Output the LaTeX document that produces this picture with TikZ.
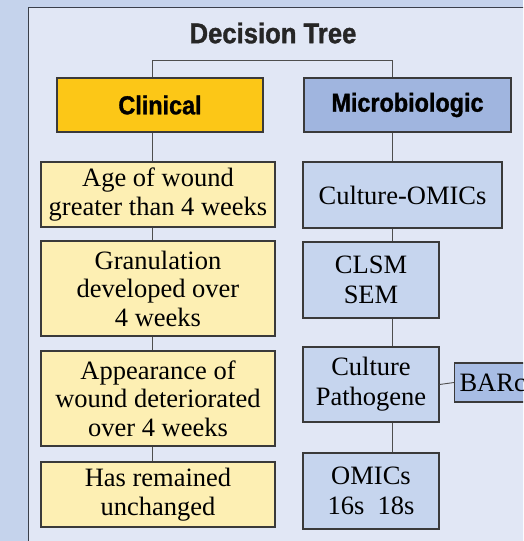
\documentclass[tikz,border=0pt]{standalone}
\usepackage{fontspec}
\setmainfont{Liberation Serif}
\newfontfamily\headfont[FakeStretch=0.9, BoldFeatures={FakeBold=1.2}]{Liberation Sans}
\usepackage{tikz}
\usepackage{xcolor}
\definecolor{outerbg}{HTML}{C5D3EC}
\definecolor{panelbg}{HTML}{E1E7F5}
\definecolor{panelline}{HTML}{3A3F4A}
\definecolor{boxline}{HTML}{3A3A3A}
\definecolor{clinfill}{HTML}{FCC717}
\definecolor{microfill}{HTML}{A0B5DF}
\definecolor{paleyellow}{HTML}{FDEFB3}
\definecolor{paleblue}{HTML}{C6D5EE}
\definecolor{barcfill}{HTML}{A8BDE4}

\tikzset{
  headbox/.style={draw=boxline, line width=1.1pt, inner sep=0pt, minimum height=54pt,
    font=\headfont\bfseries\fontsize{26}{28}\selectfont},
  critbox/.style={draw=boxline, line width=1.1pt, fill=paleyellow, inner sep=0pt,
    minimum width=234pt, align=center, font=\fontsize{26.5}{28.5}\selectfont},
  testbox/.style={draw=boxline, line width=1.1pt, fill=paleblue, inner sep=0pt,
    minimum width=136pt, align=center, font=\fontsize{26.5}{30}\selectfont},
  link/.style={draw=boxline!90, line width=0.9pt}
}

\begin{document}
\begin{tikzpicture}[x=1pt, y=-1pt]
  \useasboundingbox (0,0) rectangle (523,541);
  \clip (0,0) rectangle (523,541);

  % --- background panels ---
  \fill[outerbg] (0,0) rectangle (523,541);
  \fill[panelbg] (28.5,7.5) rectangle (540,560);
  \draw[panelline, line width=1.3pt] (28.5,560) -- (28.5,7.5) -- (540,7.5);

  % --- title ---
  \node[font=\headfont\bfseries\fontsize{28.5}{30}\selectfont, text=black!85] (title) at (273,33) {Decision Tree};

  % --- the two branches ---
  \node[headbox, fill=clinfill, minimum width=206pt] (clinical) at (160,105) {Clinical};
  \node[headbox, fill=microfill, minimum width=207pt] (micro) at (407.5,105) {Microbiologic};

  % --- clinical criteria ---
  \node[critbox, minimum height=65pt] (age) at (158,194.5) {Age of wound\\greater than 4 weeks};
  \node[critbox, minimum height=95pt] (gran) at (158,288.5) {Granulation\\developed over\\4 weeks};
  \node[critbox, minimum height=95pt] (appear) at (158,398.5) {Appearance of\\wound deteriorated\\over 4 weeks};
  \node[critbox, minimum height=65pt] (unchanged) at (158,494.5) {Has remained\\unchanged};

  % --- microbiologic tests ---
  \node[testbox, minimum width=199pt, minimum height=66pt] (culomics) at (402.5,195) {Culture-OMICs};
  \node[testbox, minimum height=76pt] (clsm) at (371,280) {CLSM\\SEM};
  \node[testbox, minimum height=75pt] (culpath) at (371,384.5) {Culture\\Pathogene};
  \node[testbox, minimum height=76pt] (omics) at (371,491) {OMICs\\16s~~18s};
  \node[draw=boxline, line width=1.1pt, fill=barcfill, inner xsep=5pt, inner ysep=0pt,
    minimum height=39pt, text width=90pt, align=left, anchor=west,
    font=\fontsize{26.5}{28}\selectfont] (barc) at (454,382.5) {BARc};

  % --- connectors ---
  \coordinate (forkL) at (152,60);
  \coordinate (forkR) at (392.7,60);
  \draw[link] (clinical.north -| forkL) -- (forkL) -- (forkR) -- (micro.north -| forkR);

  \draw[link] (clinical.south -| forkL) -- (age.north -| forkL);
  \draw[link] (age.south -| forkL) -- (gran.north -| forkL);
  \draw[link] (gran.south -| forkL) -- (appear.north -| forkL);
  \draw[link] (appear.south -| forkL) -- (unchanged.north -| forkL);

  \draw[link] (micro.south -| forkR) -- (culomics.north -| forkR);
  \draw[link] (culomics.south -| forkR) -- (clsm.north -| forkR);
  \draw[link] (clsm.south -| forkR) -- (culpath.north -| forkR);
  \draw[link] (culpath.south -| forkR) -- (omics.north -| forkR);
  \draw[link] (culpath.east) -- (barc.west);
\end{tikzpicture}
\end{document}
